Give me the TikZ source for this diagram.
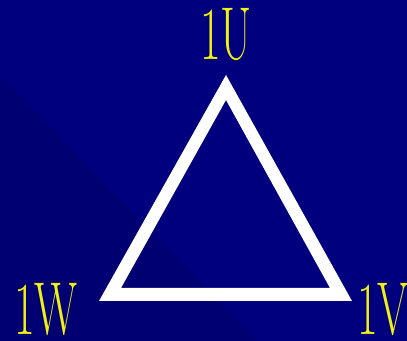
\documentclass[tikz,border=0pt]{standalone}
\usetikzlibrary{positioning}
\definecolor{bgnavy}{RGB}{0,0,126}
\definecolor{bgdark}{RGB}{0,0,114}
\definecolor{lblyel}{RGB}{240,240,20}
\begin{document}
\begin{tikzpicture}[x=0.03cm,y=-0.03cm,
  lbl/.style={text=lblyel,font=\fontsize{64}{64}\selectfont,xscale=0.6,inner sep=0pt},
  wye/.style={fill=white,even odd rule}]
  % background
  \fill[bgnavy] (0,0) rectangle (407,341);
  \fill[bgdark] (0,75) -- (257,341) -- (0,341) -- cycle;
  \useasboundingbox (0,0) rectangle (407,341);
  % delta winding
  \coordinate (U) at (226,75);
  \coordinate (W) at (99,301);
  \coordinate (V) at (352,301);
  \coordinate (Ui) at (226,100);
  \coordinate (Wi) at (121,288);
  \coordinate (Vi) at (330,288);
  \fill[wye] (U) -- (V) -- (W) -- cycle (Ui) -- (Vi) -- (Wi) -- cycle;
  % terminals
  \node[lbl] (lu) at (226,34) {1U};
  \node[lbl] (lw) at (46,309) {1W};
  \node[lbl,anchor=west] (lv) at (357,309) {1V};
\end{tikzpicture}
\end{document}
